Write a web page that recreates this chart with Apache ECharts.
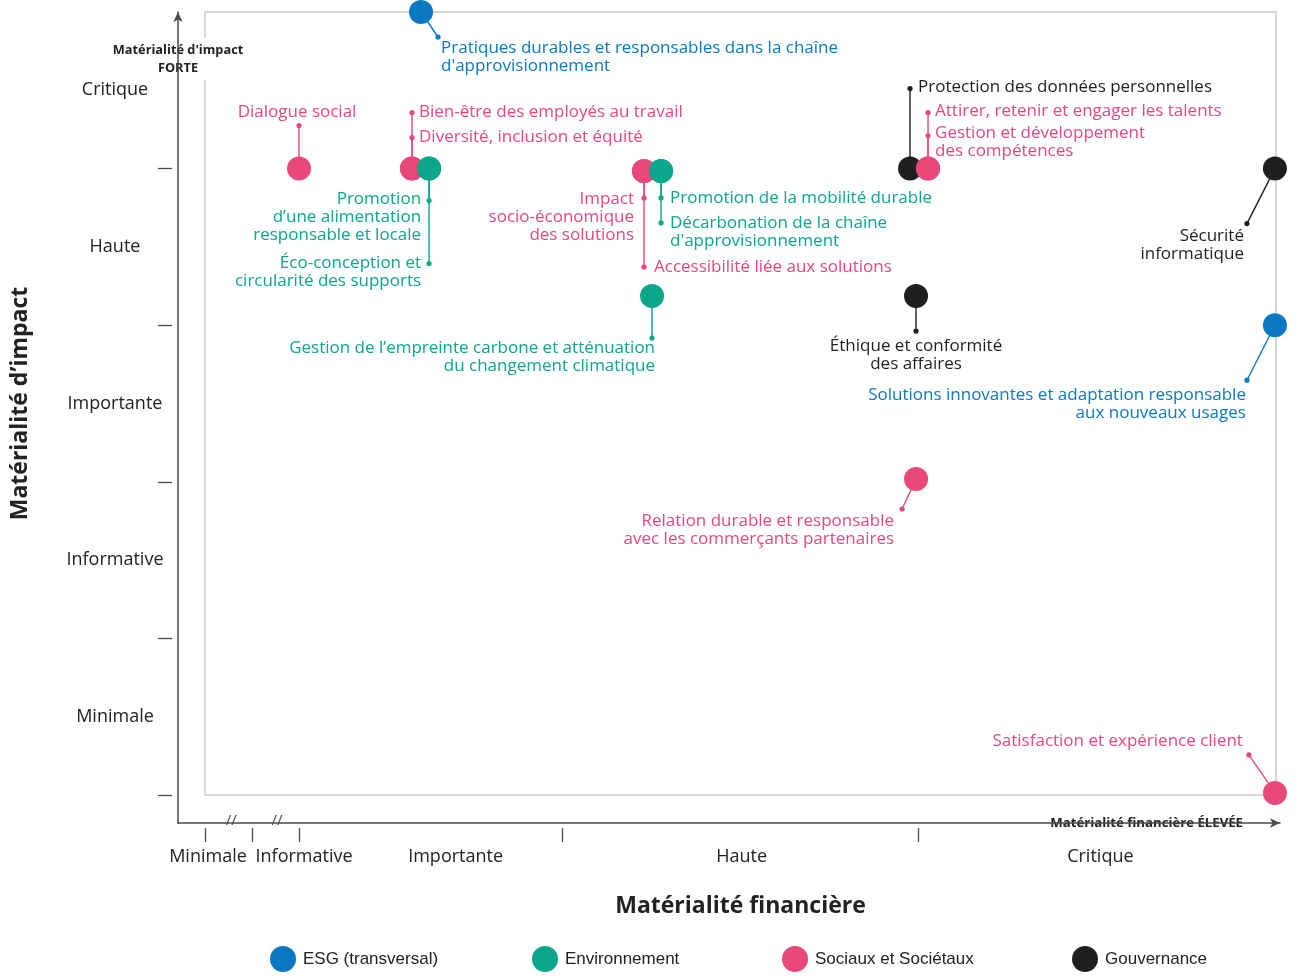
<!DOCTYPE html>
<html><head><meta charset="utf-8">
<script src="https://cdn.jsdelivr.net/npm/echarts@6/dist/echarts.min.js"></script>
<style>html,body{margin:0;padding:0;background:#fff}#c{width:1300px;height:978px}</style>
</head><body><div id="c"></div>
<script>
// ---------- DATA ----------
const categories = ['ESG (transversal)', 'Environnement', 'Sociaux et Sociétaux', 'Gouvernance'];
const impactLevels = ['Minimale', 'Informative', 'Importante', 'Haute', 'Critique'];
const financialLevels = ['Minimale', 'Informative', 'Importante', 'Haute', 'Critique'];
const financialTicks = [0, 4.39, 8.78, 33.33, 66.57];          // boundaries between financial levels
const financialLabelPos = [0.28, 9.25, 23.4, 50.1, 83.6];       // label positions on the financial scale

const esgNames = ["Pratiques durables et responsables dans la chaîne\nd'approvisionnement",
                  "Solutions innovantes et adaptation responsable\naux nouveaux usages"];
const esgFinancial = [20.17, 99.9];
const esgImpact = [5.0, 3.0];

const envNames = ["Promotion\nd’une alimentation\nresponsable et locale",
                  "Éco-conception et\ncircularité des supports",
                  "Promotion de la mobilité durable",
                  "Décarbonation de la chaîne\nd'approvisionnement",
                  "Gestion de l’empreinte carbone et atténuation\ndu changement climatique"];
const envFinancial = [20.92, 20.92, 42.58, 42.58, 41.74];
const envImpact = [4.0, 4.0, 3.985, 3.985, 3.186];

const socNames = ["Dialogue social",
                  "Bien-être des employés au travail",
                  "Diversité, inclusion et équité",
                  "Impact\nsocio-économique\ndes solutions",
                  "Accessibilité liée aux solutions",
                  "Attirer, retenir et engager les talents",
                  "Gestion et développement\ndes compétences",
                  "Relation durable et responsable\navec les commerçants partenaires",
                  "Satisfaction et expérience client"];
const socFinancial = [8.78, 19.33, 19.33, 40.99, 40.99, 67.51, 67.51, 66.39, 99.9];
const socImpact = [4.0, 4.0, 4.0, 3.985, 3.985, 4.0, 4.0, 2.018, 0.013];

const govNames = ["Protection des données personnelles",
                  "Sécurité\ninformatique",
                  "Éthique et conformité\ndes affaires"];
const govFinancial = [65.83, 99.9, 66.39];
const govImpact = [4.0, 4.0, 3.186];

// ---------- LABEL LAYOUT (pixel offsets from the point) ----------
const esgLayout = [
  {dot:[17,25], text:[20,27], align:'left'},
  {dot:[-28,55], text:[-29,61], align:'right'}
];
const envLayout = [
  {dot:[0,32], text:[-8,22], align:'right'},
  {dot:[0,95], text:[-8,86], align:'right'},
  {dot:[0,27], text:[9,18], align:'left'},
  {dot:[0,52], text:[9,43], align:'left'},
  {dot:[0,42], text:[3,43], align:'right'}
];
const socLayout = [
  {dot:[0,-43], text:[-2,-65], align:'center'},
  {dot:[0,-56], text:[7,-65], align:'left'},
  {dot:[0,-31], text:[7,-40], align:'left'},
  {dot:[0,27], text:[-10,19], align:'right'},
  {dot:[0,96], text:[10,87], align:'left'},
  {dot:[0,-56], text:[7,-66], align:'left'},
  {dot:[0,-33], text:[7,-44], align:'left'},
  {dot:[-14,30], text:[-22,33], align:'right'},
  {dot:[-26,-38], text:[-32,-61], align:'right'}
];
const govLayout = [
  {dot:[0,-80], text:[8,-90], align:'left'},
  {dot:[-28,55], text:[-31,59], align:'right'},
  {dot:[0,35], text:[0,41], align:'center'}
];
const legendLeft = [270, 532, 782, 1072];

const colors = ['#0b78c3', '#0aa78b', '#e8487a', '#1f1f1f'];
const FONT = "'Open Sans', sans-serif";

const groups = [
  {names: esgNames, fin: esgFinancial, imp: esgImpact, layout: esgLayout, z: 6},
  {names: envNames, fin: envFinancial, imp: envImpact, layout: envLayout, z: 5},
  {names: socNames, fin: socFinancial, imp: socImpact, layout: socLayout, z: 4},
  {names: govNames, fin: govFinancial, imp: govImpact, layout: govLayout, z: 3}
];

const series = [];
groups.forEach((g, gi) => {
  const data = g.fin.map((v, i) => [v, g.imp[i], i]);
  series.push({
    type: 'custom', name: categories[gi], xAxisIndex: 0, yAxisIndex: 0, z: 1, clip: false,
    data: data, silent: true,
    renderItem: function (params, api) {
      const i = api.value(2);
      const p = api.coord([api.value(0), api.value(1)]);
      const lay = g.layout[i];
      const dx = p[0] + lay.dot[0], dy = p[1] + lay.dot[1];
      return {type: 'group', children: [
        {type: 'line', shape: {x1: p[0], y1: p[1], x2: dx, y2: dy}, style: {stroke: colors[gi], lineWidth: 1.4}},
        {type: 'circle', shape: {cx: dx, cy: dy, r: 2.6}, style: {fill: colors[gi]}},
        {type: 'text', x: p[0] + lay.text[0], y: p[1] + lay.text[1],
          style: {text: g.names[i], fill: colors[gi], fontFamily: FONT, fontSize: 17,
                  lineHeight: 18, align: lay.align, verticalAlign: 'top'}}
      ]};
    }
  });
  series.push({
    type: 'scatter', name: categories[gi], xAxisIndex: 0, yAxisIndex: 0, z: g.z,
    symbol: 'circle', symbolSize: 24, clip: false,
    itemStyle: {color: colors[gi], opacity: 1},
    data: data
  });
});

const nearestIdx = (arr, v) => { let b = 0; arr.forEach((a, i) => { if (Math.abs(a - v) < Math.abs(arr[b] - v)) b = i; }); return b; };

const axisColor = '#4a4a4a';
const pxPerX = 1071 / 100;
const xMinFrame = -27 / pxPerX, xMaxFrame = (1280 - 205) / pxPerX;
const yMinFrame = -28 / (783 / 5);

const option = {
  animation: false,
  color: colors,
  textStyle: {fontFamily: FONT},
  grid: [
    {left: 205, right: 24, top: 12, bottom: 183, show: true, borderColor: '#cccccc', borderWidth: 1.5, backgroundColor: 'transparent'},
    {left: 178, right: 20, top: 12, bottom: 155}
  ],
  xAxis: [
    {gridIndex: 0, type: 'value', min: 0, max: 100, position: 'bottom',
     axisLine: {show: false, onZero: false}, axisTick: {show: false}, axisLabel: {show: false}, splitLine: {show: false},
     name: 'Matérialité financière', nameLocation: 'middle', nameGap: 100,
     nameTextStyle: {fontFamily: FONT, fontSize: 23, fontWeight: 'bold', color: '#222'}},
    {gridIndex: 1, type: 'value', min: xMinFrame, max: xMaxFrame, position: 'bottom',
     axisLine: {show: true, onZero: false, symbol: ['none', 'arrow'], symbolSize: [7, 10], lineStyle: {color: axisColor, width: 1.5}},
     axisTick: {show: false}, axisLabel: {show: false}, splitLine: {show: false},
     name: 'Matérialité financière ÉLEVÉE', nameLocation: 'end', nameGap: -30,
     nameTextStyle: {fontFamily: FONT, fontSize: 13.2, fontWeight: 'bold', color: '#222', align: 'right', verticalAlign: 'middle',
                     backgroundColor: '#fff', padding: [3, 7, 3, 8]}},
    {gridIndex: 1, type: 'value', min: xMinFrame, max: xMaxFrame, position: 'bottom', offset: 5,
     axisLine: {show: false, onZero: false},
     axisTick: {show: true, length: 14, customValues: financialTicks, lineStyle: {color: axisColor, width: 1.3}},
     axisLabel: {show: true, customValues: financialLabelPos, margin: 20, color: '#222', fontFamily: FONT, fontSize: 18,
                 formatter: v => financialLevels[nearestIdx(financialLabelPos, v)]},
     splitLine: {show: false}},
    {gridIndex: 1, type: 'value', min: xMinFrame, max: xMaxFrame, position: 'bottom',
     axisLine: {show: false, onZero: false}, axisTick: {show: false},
     axisLabel: {show: true, customValues: [2.45, 6.72], margin: -10, color: axisColor, fontFamily: FONT, fontSize: 15,
                 formatter: () => '//'},
     splitLine: {show: false}}
  ],
  yAxis: [
    {gridIndex: 0, type: 'value', min: 0, max: 5, position: 'left', offset: 33,
     axisLine: {show: false, onZero: false},
     axisTick: {show: true, length: 14, customValues: [0, 1, 2, 3, 4], lineStyle: {color: axisColor, width: 1.3}},
     axisLabel: {show: true, customValues: [0.5, 1.5, 2.5, 3.5, 4.5], margin: 57, align: 'center', color: '#222',
                 fontFamily: FONT, fontSize: 18, formatter: v => impactLevels[Math.round(v - 0.5)]},
     splitLine: {show: false},
     name: 'Matérialité d’impact', nameLocation: 'middle', nameGap: 140, nameRotate: 90,
     nameTextStyle: {fontFamily: FONT, fontSize: 23, fontWeight: 'bold', color: '#222'}},
    {gridIndex: 1, type: 'value', min: yMinFrame, max: 5, position: 'left',
     axisLine: {show: true, onZero: false, symbol: ['none', 'arrow'], symbolSize: [7, 10], lineStyle: {color: axisColor, width: 1.5}},
     axisTick: {show: false}, axisLabel: {show: false}, splitLine: {show: false},
     name: "Matérialité d'impact\nFORTE", nameLocation: 'end', nameGap: -47,
     nameTextStyle: {fontFamily: FONT, fontSize: 12.8, fontWeight: 'bold', color: '#222', align: 'center', verticalAlign: 'middle',
                     lineHeight: 18, backgroundColor: '#fff', padding: [3, 0, 3, 0]}}
  ],
  legend: categories.map((c, i) => ({
    data: [{name: c, icon: 'circle'}],
    left: legendLeft[i], top: 946, padding: 0, itemWidth: 26, itemHeight: 26,
    textStyle: {fontFamily: "'Liberation Sans', Arial, sans-serif", fontSize: 17, color: '#222', padding: [0, 0, 0, 2]}
  })),
  series: series
};

const chart = echarts.init(document.getElementById('c'), null, {renderer: 'canvas'});
chart.setOption(option);
</script>
</body></html>
